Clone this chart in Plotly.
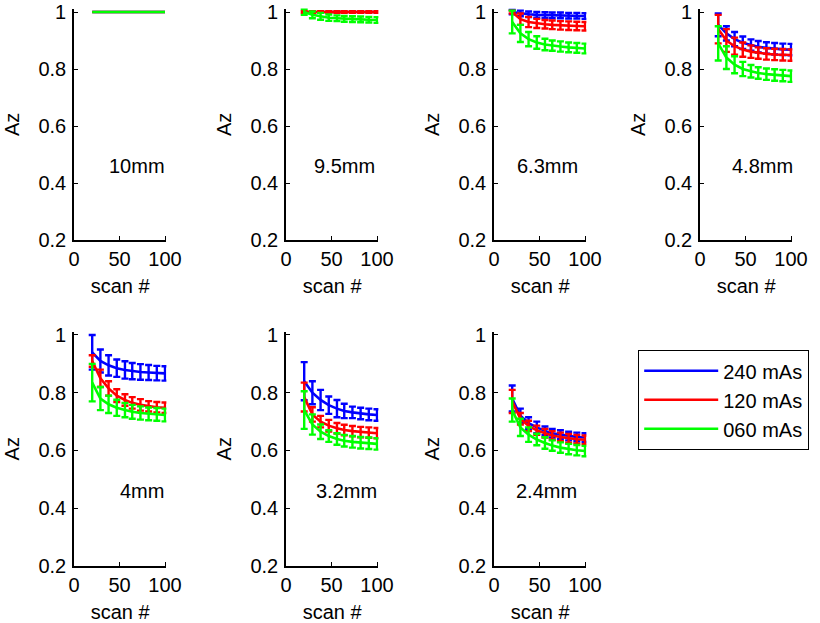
import plotly.graph_objects as go

# ---------------- data ----------------
scan = [20, 29, 38, 47, 56, 64, 73, 82, 91, 100]
panels = ["10mm", "9.5mm", "6.3mm", "4.8mm", "4mm", "3.2mm", "2.4mm"]
series_names = ["240 mAs", "120 mAs", "060 mAs"]
series_colors = ["#0000FF", "#FF0000", "#00FF00"]

# mean Az per panel (blue 240, red 120, green 060)
az_240 = [
    [1.0, 1.0, 1.0, 1.0, 1.0, 1.0, 1.0, 1.0, 1.0, 1.0],
    [1.0, 1.0, 1.0, 1.0, 1.0, 1.0, 1.0, 1.0, 1.0, 1.0],
    [1.0, 0.995, 0.992, 0.99, 0.989, 0.988, 0.988, 0.987, 0.987, 0.986],
    [0.955, 0.925, 0.905, 0.892, 0.884, 0.878, 0.874, 0.871, 0.869, 0.868],
    [0.94, 0.91, 0.895, 0.885, 0.879, 0.875, 0.872, 0.87, 0.868, 0.867],
    [0.84, 0.8, 0.775, 0.757, 0.745, 0.737, 0.732, 0.728, 0.725, 0.723],
    [0.78, 0.72, 0.695, 0.68, 0.668, 0.66, 0.655, 0.65, 0.647, 0.645],
]
az_120 = [
    [1.0, 1.0, 1.0, 1.0, 1.0, 1.0, 1.0, 1.0, 1.0, 1.0],
    [1.0, 1.0, 1.0, 1.0, 1.0, 1.0, 1.0, 1.0, 1.0, 1.0],
    [1.0, 0.975, 0.965, 0.96, 0.957, 0.955, 0.953, 0.952, 0.951, 0.95],
    [0.94, 0.9, 0.88, 0.868, 0.861, 0.856, 0.853, 0.851, 0.85, 0.849],
    [0.91, 0.85, 0.815, 0.79, 0.775, 0.765, 0.758, 0.753, 0.75, 0.748],
    [0.785, 0.725, 0.7, 0.686, 0.677, 0.671, 0.667, 0.664, 0.662, 0.66],
    [0.77, 0.71, 0.685, 0.67, 0.66, 0.652, 0.647, 0.642, 0.639, 0.637],
]
az_060 = [
    [1.0, 1.0, 1.0, 1.0, 1.0, 1.0, 1.0, 1.0, 1.0, 1.0],
    [1.0, 0.99, 0.985, 0.98, 0.978, 0.976, 0.975, 0.974, 0.973, 0.972],
    [0.965, 0.925, 0.905, 0.893, 0.886, 0.882, 0.879, 0.876, 0.874, 0.872],
    [0.89, 0.84, 0.815, 0.8, 0.792, 0.786, 0.782, 0.779, 0.777, 0.775],
    [0.835, 0.78, 0.76, 0.748, 0.74, 0.734, 0.73, 0.727, 0.725, 0.723],
    [0.74, 0.69, 0.665, 0.65, 0.64, 0.634, 0.63, 0.627, 0.625, 0.623],
    [0.74, 0.68, 0.655, 0.638, 0.626, 0.617, 0.61, 0.605, 0.601, 0.598],
]
# error bar half-lengths
err_240 = [
    [0, 0, 0, 0, 0, 0, 0, 0, 0, 0],
    [0, 0, 0, 0, 0, 0, 0, 0, 0, 0],
    [0.008, 0.01, 0.01, 0.01, 0.01, 0.01, 0.01, 0.01, 0.01, 0.01],
    [0.04, 0.025, 0.025, 0.022, 0.02, 0.02, 0.02, 0.02, 0.02, 0.02],
    [0.06, 0.04, 0.035, 0.03, 0.03, 0.028, 0.027, 0.026, 0.025, 0.025],
    [0.066, 0.04, 0.035, 0.03, 0.03, 0.025, 0.02, 0.02, 0.02, 0.02],
    [0.045, 0.025, 0.02, 0.02, 0.015, 0.015, 0.015, 0.015, 0.015, 0.015],
]
err_120 = [
    [0, 0, 0, 0, 0, 0, 0, 0, 0, 0],
    [0.003, 0.003, 0.003, 0.003, 0.003, 0.003, 0.003, 0.003, 0.003, 0.003],
    [0.005, 0.02, 0.018, 0.016, 0.015, 0.015, 0.015, 0.015, 0.015, 0.015],
    [0.05, 0.04, 0.03, 0.025, 0.022, 0.02, 0.02, 0.02, 0.02, 0.02],
    [0.02, 0.03, 0.025, 0.022, 0.02, 0.02, 0.02, 0.018, 0.018, 0.018],
    [0.05, 0.025, 0.02, 0.02, 0.018, 0.018, 0.018, 0.018, 0.018, 0.018],
    [0.04, 0.02, 0.018, 0.016, 0.015, 0.015, 0.015, 0.015, 0.015, 0.015],
]
err_060 = [
    [0, 0, 0, 0, 0, 0, 0, 0, 0, 0],
    [0.01, 0.012, 0.012, 0.011, 0.01, 0.01, 0.01, 0.01, 0.01, 0.01],
    [0.04, 0.03, 0.025, 0.022, 0.02, 0.018, 0.018, 0.017, 0.017, 0.017],
    [0.06, 0.04, 0.03, 0.025, 0.022, 0.02, 0.02, 0.02, 0.02, 0.02],
    [0.065, 0.04, 0.03, 0.028, 0.025, 0.024, 0.023, 0.022, 0.022, 0.022],
    [0.065, 0.035, 0.025, 0.02, 0.02, 0.02, 0.02, 0.02, 0.02, 0.02],
    [0.04, 0.03, 0.025, 0.02, 0.02, 0.018, 0.018, 0.018, 0.018, 0.018],
]
label_pos_x = [69, 64, 59, 69, 75, 67, 58]
label_pos_y = 0.46

x_ticks = [0, 50, 100]
y_ticks = [0.2, 0.4, 0.6, 0.8, 1.0]
y_ticktext = ["0.2", "0.4", "0.6", "0.8", "1"]

# ---------------- layout geometry (pixels) ----------------
W, H = 820, 623
col_left = [74, 286, 494, 700]
ax_w = 91
row_top = [12, 335]
row_h = [228, 231]
XR = [0, 101.5]
YR = [0.2, 1.012]

fig = go.Figure()
means = [az_240, az_120, az_060]
errs = [err_240, err_120, err_060]
FONT = "Liberation Sans, Arial, sans-serif"

for p, name in enumerate(panels):
    r, c = divmod(p, 4)
    idx = p + 1
    xa = "x" if idx == 1 else f"x{idx}"
    ya = "y" if idx == 1 else f"y{idx}"
    for s in range(3):
        e = errs[s][p]
        fig.add_trace(go.Scatter(
            x=scan, y=means[s][p], mode="lines", name=series_names[s],
            line=dict(color=series_colors[s], width=2.6),
            error_y=dict(type="data", array=e, visible=any(v > 0 for v in e),
                         color=series_colors[s], thickness=2.4, width=3.5),
            xaxis=xa, yaxis=ya, showlegend=(p == 0), legendgroup=series_names[s],
            cliponaxis=False,
        ))
    ax_h = row_h[r]
    x0 = col_left[c]
    x1 = x0 + ax_w * (XR[1] - XR[0]) / 100.0
    ytop = row_top[r] - ax_h * (YR[1] - 1.0) / 0.8
    ybot = row_top[r] + ax_h
    axis_common = dict(showline=True, linecolor="black", linewidth=1.6,
                       ticks="inside", ticklen=4, tickcolor="black", tickwidth=1.3,
                       showgrid=False, zeroline=False, automargin=False,
                       ticklabeloverflow="allow",
                       tickfont=dict(family=FONT, size=20, color="black"))
    fig.layout[f"xaxis{idx if idx > 1 else ''}"] = dict(
        domain=[x0 / W, x1 / W], range=XR, anchor=ya,
        tickvals=x_ticks, ticklabelstandoff=0,
        title=dict(text="scan #", font=dict(family=FONT, size=20, color="black"), standoff=10),
        **axis_common)
    fig.layout[f"yaxis{idx if idx > 1 else ''}"] = dict(
        domain=[1 - ybot / H, 1 - ytop / H], range=YR, anchor=xa,
        tickvals=y_ticks, ticktext=y_ticktext, ticklabelstandoff=2,
        title=dict(text="Az", font=dict(family=FONT, size=20, color="black"), standoff=13),
        **axis_common)
    fig.add_annotation(x=label_pos_x[p], y=label_pos_y, xref=xa, yref=ya,
                       text=name, showarrow=False,
                       font=dict(family=FONT, size=20, color="black"))

fig.update_layout(
    width=W, height=H,
    margin=dict(l=0, r=0, t=0, b=0, autoexpand=False),
    paper_bgcolor="white", plot_bgcolor="white",
    legend=dict(x=638 / W, y=1 - 350 / H, xanchor="left", yanchor="top",
                bordercolor="black", borderwidth=1.2, bgcolor="white",
                font=dict(family=FONT, size=20, color="black"),
                itemwidth=74, tracegroupgap=0),
)

fig.write_html("out.html", config={"displayModeBar": False},
               post_script="document.body.style.margin='0';document.body.style.overflow='hidden';")
